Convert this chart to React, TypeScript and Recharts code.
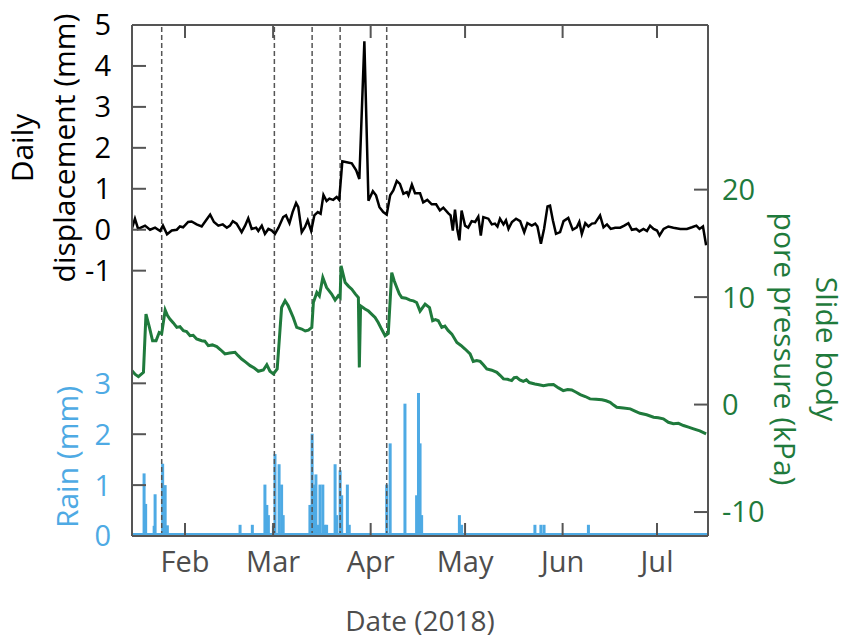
import React from "react";
import {
  ComposedChart,
  Line,
  Bar,
  XAxis,
  YAxis,
  ReferenceLine,
} from "recharts";

// Days are counted from 1 Jan 2018 (day 0).
const monthTicks = [31, 59, 90, 120, 151, 181];
const monthLabels = ["Feb", "Mar", "Apr", "May", "Jun", "Jul"];
const rainEventDays = [23.6, 59.4, 71.4, 80.3, 95.1];

const dispTicks = [-1, 0, 1, 2, 3, 4, 5];
const rainTicks = [0, 1, 2, 3];
const poreTicks = [-10, 0, 10, 20];

// daily displacement, mm
const displacement: [number, number][] = [
  [14.1, 0.02], [15.1, 0.27], [16.1, 0.02], [18.3, 0.1], [19.9, 0], [21.5, 0.05],
  [23.1, -0.03], [24.0, 0.1], [25.3, -0.11], [26.8, -0.02], [28.4, 0], [29.4, 0.08],
  [30.4, 0.06], [32.0, 0.19], [33.1, 0.2], [34.7, 0.13], [36.3, 0.08], [37.7, 0.23],
  [39.0, 0.37], [40.2, 0.19], [41.6, 0.1], [43.0, 0.13], [44.3, 0.05], [45.3, 0.1],
  [46.2, 0.21], [47.4, 0.15], [49.0, -0.06], [50.1, 0.1], [51.1, 0.28], [52.2, 0.02],
  [53.6, 0.05], [54.3, -0.03], [55.4, 0.1], [56.4, -0.1], [57.5, 0.02], [58.6, -0.02],
  [59.6, -0.1], [60.7, 0.05], [62.2, 0.31], [63.1, 0.35], [64.2, 0.16], [65.2, 0.43],
  [66.3, 0.65], [67.0, 0.55], [68.1, -0.06], [69.1, 0.06], [70.0, 0.23], [71.1, -0.03],
  [72.1, 0.35], [73.2, 0.43], [74.1, 0.39], [75.0, 0.85], [76.0, 0.7], [76.9, 0.76],
  [78.1, 0.73], [79.2, 0.8], [80.0, 0.73], [81.0, 1.67], [82.4, 1.65], [84.0, 1.62],
  [85.4, 1.45], [86.4, 1.24], [88.0, 4.6], [89.3, 0.71], [90.7, 0.94], [91.7, 0.84],
  [92.8, 0.55], [94.0, 0.43], [95.1, 0.37], [96.2, 0.84], [97.2, 0.96], [98.3, 1.19],
  [99.3, 1.12], [100.4, 0.88], [101.5, 0.92], [102.0, 0.84], [103.1, 1.1], [104.1, 0.89],
  [105.7, 0.89], [106.7, 0.67], [108.0, 0.73], [109.4, 0.62], [110.8, 0.62], [112.0, 0.47],
  [113.1, 0.54], [114.7, 0.4], [115.4, 0.35], [116.1, -0.02], [116.8, 0.49], [117.5, 0.02],
  [118.2, -0.26], [118.9, 0.47], [120.0, 0.1], [121.0, 0.05], [122.1, 0.21], [123.2, 0.19],
  [124.2, 0.32], [125.0, -0.14], [125.8, 0.31], [127.4, 0.27], [128.5, 0.13], [129.5, 0.15],
  [130.3, 0.08], [131.1, 0.27], [132.2, 0.13], [133.0, 0.23], [133.8, 0.02], [134.9, 0.19],
  [136.2, 0.27], [137.5, 0.21], [138.8, -0.06], [139.8, 0.16], [141.2, 0.1], [142.3, 0.15],
  [143.0, 0.08], [144.1, -0.34], [145.1, 0.02], [146.2, 0.57], [147.0, 0.59], [147.9, 0.23],
  [148.9, -0.1], [150.2, -0.06], [151.3, 0.21], [152.8, 0.29], [154.2, 0], [155.5, 0.06],
  [156.3, 0.19], [157.1, -0.1], [158.2, 0.16], [159.2, 0.08], [160.3, 0.15], [161.3, 0.16],
  [162.9, 0.35], [164.0, 0.06], [165.1, 0.13], [166.3, 0.02], [167.7, 0.05], [169.3, 0.05],
  [170.6, 0.1], [171.9, 0.16], [173.0, 0], [174.4, 0.02], [175.4, -0.04], [176.7, 0.02],
  [177.8, -0.03], [178.8, 0.1], [179.9, 0.02], [181.0, -0.02], [181.8, -0.14], [183.1, 0.02],
  [184.6, 0.08], [186.2, 0.05], [188.4, 0.02], [190.5, 0.02], [192.1, 0.06], [193.5, 0.1],
  [194.5, 0.02], [195.6, 0.08], [196.6, -0.38],
];

// slide body pore pressure, kPa
const porePressure: [number, number][] = [
  [14.1, 3.16], [15.2, 2.8], [16.2, 2.6], [17.8, 3.0], [18.6, 8.42], [19.7, 7.18], [20.7, 5.94],
  [21.8, 5.94], [22.8, 6.71], [23.6, 6.6], [24.7, 8.79], [25.4, 8.3], [26.2, 7.96], [27.3, 7.6],
  [28.4, 7.18], [29.4, 7.25], [30.5, 6.87], [31.5, 6.8], [32.6, 6.41], [33.6, 6.45], [34.7, 6.1],
  [36.3, 5.94], [37.3, 5.9], [38.4, 5.48], [39.7, 5.55], [41.1, 5.39], [42.3, 5.1], [43.7, 4.71],
  [45.2, 4.8], [46.9, 4.86], [47.9, 4.55], [49.0, 4.24], [50.3, 3.95], [51.7, 3.62],
  [53.0, 3.4], [54.3, 3.1], [55.9, 3.22], [57.0, 3.71], [58.0, 3.1], [59.1, 2.85], [60.3, 3.31],
  [61.7, 9.03], [62.8, 9.66], [63.8, 9.19], [65.4, 8.1], [66.5, 7.18], [68.1, 7.03],
  [69.2, 6.85], [70.2, 6.93], [71.3, 7.18], [71.8, 9.5], [72.9, 10.43], [73.7, 10.12],
  [74.8, 11.82], [76.0, 10.89], [77.6, 10.28], [78.7, 9.72], [79.7, 10.12], [80.3, 9.96],
  [80.6, 12.91], [81.9, 11.36], [83.0, 11.0], [84.0, 10.74], [85.1, 10.3], [86.1, 9.96],
  [86.4, 3.46], [86.8, 9.19], [88.2, 8.89], [89.3, 8.7], [90.3, 8.42], [91.4, 8.1],
  [92.4, 7.64], [93.5, 7.0], [94.6, 6.41], [95.6, 6.62], [96.7, 12.28], [97.5, 11.5],
  [98.3, 10.89], [99.1, 10.3], [99.9, 9.96], [101.2, 9.9], [102.5, 9.72], [103.6, 9.65],
  [104.6, 9.5], [105.7, 8.7], [107.3, 9.35], [108.7, 9.03], [109.7, 7.8], [110.6, 7.9],
  [111.5, 7.8], [112.6, 7.18], [113.6, 7.3], [114.6, 6.9], [115.8, 6.56], [117.4, 5.78],
  [118.7, 5.5], [120.0, 5.17], [121.6, 4.71], [122.6, 4.02], [123.7, 4.1], [124.8, 4.02],
  [125.8, 3.7], [126.9, 3.31], [128.5, 3.2], [130.1, 3.0], [131.2, 2.7], [132.2, 2.39],
  [133.5, 2.35], [134.8, 2.23], [135.6, 2.5], [136.4, 2.53], [137.4, 2.3], [138.5, 2.16],
  [139.5, 2.3], [140.4, 2.05], [142.2, 1.92], [143.5, 1.85], [144.9, 1.76], [146.5, 1.85],
  [148.1, 1.86], [149.7, 1.55], [151.2, 1.3], [152.6, 1.4], [153.9, 1.36], [155.3, 1.15],
  [156.6, 0.93], [158.2, 0.75], [159.7, 0.53], [161.6, 0.5], [163.5, 0.44], [164.8, 0.35],
  [166.1, 0.21], [167.2, -0.05], [168.2, -0.25], [170.3, -0.32], [172.5, -0.4], [174.0, -0.6],
  [175.6, -0.81], [177.7, -0.95], [179.9, -1.18], [181.4, -1.22], [183.0, -1.33],
  [184.6, -1.65], [186.2, -1.79], [187.8, -1.75], [189.4, -1.95], [191.0, -2.1],
  [192.6, -2.26], [194.6, -2.45], [196.6, -2.72],
];

// rain, mm
const rainfall: [number, number][] = [
  [18.0, 1.23], [18.5, 0.63], [21.2, 0.2], [21.5, 0.82], [23.9, 1.42], [24.7, 1.0],
  [25.4, 0.21], [48.5, 0.22], [52.4, 0.22], [56.4, 1.01], [57.0, 0.61], [57.5, 0.41],
  [59.1, 0.2], [59.6, 1.61], [60.9, 1.41], [61.7, 1.01], [62.2, 0.41], [70.7, 0.61],
  [71.4, 2.01], [72.0, 1.01], [72.6, 1.21], [73.4, 0.22], [73.9, 1.01], [74.8, 1.01],
  [75.5, 0.22], [76.0, 0.22], [78.7, 1.41], [79.2, 0.41], [80.3, 1.29], [80.8, 0.8],
  [82.6, 1.01], [83.2, 0.22], [95.1, 1.01], [96.2, 1.82], [100.9, 2.6], [104.6, 0.8],
  [105.2, 2.81], [105.7, 1.82], [106.2, 0.41], [118.2, 0.41], [118.9, 0.22], [142.2, 0.22],
  [144.1, 0.22], [145.1, 0.22], [159.2, 0.22],
];

type Row = { day: number; disp?: number; pore?: number; rain?: number };

const byDay = new Map<number, Row>();
function addSeries(points: [number, number][], key: "disp" | "pore" | "rain") {
  for (const [day, v] of points) {
    const row = byDay.get(day) ?? { day };
    row[key] = v;
    byDay.set(day, row);
  }
}
addSeries(displacement, "disp");
addSeries(porePressure, "pore");
addSeries(rainfall, "rain");
const rows = Array.from(byDay.values()).sort((a, b) => a.day - b.day);

const W = 849;
const H = 639;
const PLOT_LEFT = 132;
const PLOT_RIGHT = 708;
const PLOT_TOP = 24;
const PLOT_BOTTOM = 536;
const LEFT_AXIS_W = 60;
const RIGHT_AXIS_W = 60;
const BOTTOM_AXIS_H = 60;

const FONT = "'Open Sans', 'Noto Sans', sans-serif";
const FS_TICK = 29;
const FS_YTITLE = 30;
const FS_XTITLE = 28;
const AXIS = "#555555";
const GREY_TEXT = "#4d4d4d";
const BLUE = "#4eaae4";
const GREEN = "#1f7a3c";

function BottomTick(props: any) {
  const { x, y, payload } = props;
  const i = monthTicks.indexOf(payload.value);
  return (
    <g>
      <line x1={x} x2={x} y1={y} y2={y - 13} stroke={AXIS} strokeWidth={2} />
      <text x={x} y={y + 36} textAnchor="middle" fontSize={FS_TICK} fontFamily={FONT} fill={GREY_TEXT}>
        {monthLabels[i]}
      </text>
    </g>
  );
}

function TopTick(props: any) {
  const { x, y } = props;
  return <line x1={x} x2={x} y1={y} y2={y + 13} stroke={AXIS} strokeWidth={2} />;
}

// both left-hand scales share the left edge of the plot box
function leftTick(color: string) {
  return (props: any) => {
    const { y, payload } = props;
    const x = PLOT_LEFT;
    return (
      <g>
        <line x1={x} x2={x + 14} y1={y} y2={y} stroke={AXIS} strokeWidth={2} />
        <text x={x - 21} y={y} dy="0.36em" textAnchor="end" fontSize={FS_TICK} fontFamily={FONT} fill={color}>
          {payload.value}
        </text>
      </g>
    );
  };
}

function RightTick(props: any) {
  const { x, y, payload } = props;
  return (
    <g>
      <line x1={x} x2={x - 14} y1={y} y2={y} stroke={AXIS} strokeWidth={2} />
      <text x={x + 14} y={y} dy="0.36em" textAnchor="start" fontSize={FS_TICK} fontFamily={FONT} fill={GREEN}>
        {payload.value}
      </text>
    </g>
  );
}

// thin rain stems of fixed width, centred on the day
function RainStem(props: any) {
  const { x, y, width, height } = props;
  if (!height || height <= 0) return null;
  return <rect x={x + width / 2 - 1.5} y={y} width={3} height={height} fill={BLUE} />;
}

// zero line of the rain record, drawn just above the bottom axis
function RainBaseline(props: any) {
  const { x1, x2, y1 } = props;
  return <line x1={x1} x2={x2} y1={y1 - 2} y2={y1 - 2} stroke={BLUE} strokeWidth={2} />;
}

function rotated(text: string, x: number, y: number, angle: number, color: string, size: number) {
  return (
    <text
      x={x}
      y={y}
      transform={`rotate(${angle} ${x} ${y})`}
      textAnchor="middle"
      fontSize={size}
      fontFamily={FONT}
      fill={color}
    >
      {text}
    </text>
  );
}

const dispTitle = () => (
  <g>
    {rotated("Daily", 33, 148, -90, "#000", FS_YTITLE)}
    {rotated("displacement (mm)", 75, 148, -90, "#000", FS_YTITLE)}
  </g>
);

const rainTitle = () => <g>{rotated("Rain (mm)", 78, 457, -90, BLUE, FS_YTITLE)}</g>;

const poreTitle = () => (
  <g>
    {rotated("Slide body", 816, 349, 90, GREEN, FS_YTITLE)}
    {rotated("pore pressure (kPa)", 774, 349, 90, GREEN, FS_YTITLE)}
  </g>
);

const dateTitle = () => (
  <text
    x={(PLOT_LEFT + PLOT_RIGHT) / 2}
    y={631}
    textAnchor="middle"
    fontSize={FS_XTITLE}
    fontFamily={FONT}
    fill={GREY_TEXT}
  >
    Date (2018)
  </text>
);

export default function App() {
  return (
    <div style={{ position: "absolute", left: 0, top: 0, width: W, height: H, background: "#fff", fontFamily: FONT }}>
      <ComposedChart
        width={W}
        height={H}
        data={rows}
        margin={{
          top: PLOT_TOP,
          bottom: H - PLOT_BOTTOM - BOTTOM_AXIS_H,
          left: PLOT_LEFT - LEFT_AXIS_W,
          right: W - PLOT_RIGHT - RIGHT_AXIS_W,
        }}
      >
        <XAxis
          xAxisId="bottom"
          dataKey="day"
          type="number"
          domain={[14.16, 197.2]}
          allowDataOverflow
          ticks={monthTicks}
          interval={0}
          height={BOTTOM_AXIS_H}
          tickSize={0}
          tickMargin={0}
          tickLine={false}
          tick={BottomTick}
          axisLine={{ stroke: AXIS, strokeWidth: 2 }}
          label={{ content: dateTitle }}
        />
        <XAxis
          xAxisId="top"
          orientation="top"
          dataKey="day"
          type="number"
          domain={[14.16, 197.2]}
          allowDataOverflow
          ticks={monthTicks}
          interval={0}
          height={1}
          tickSize={0}
          tickMargin={0}
          tickLine={false}
          tick={TopTick}
          axisLine={{ stroke: AXIS, strokeWidth: 2 }}
        />
        <YAxis
          yAxisId="rain"
          orientation="left"
          domain={[0, 10.04]}
          allowDataOverflow
          ticks={rainTicks}
          interval={0}
          width={1}
          tickSize={0}
          tickMargin={0}
          tickLine={false}
          axisLine={false}
          tick={leftTick(BLUE)}
          label={{ content: rainTitle }}
        />
        <YAxis
          yAxisId="disp"
          orientation="left"
          domain={[-7.48, 5]}
          allowDataOverflow
          ticks={dispTicks}
          interval={0}
          width={LEFT_AXIS_W - 1}
          tickSize={0}
          tickMargin={0}
          tickLine={false}
          tick={leftTick("#000")}
          axisLine={{ stroke: AXIS, strokeWidth: 2 }}
          label={{ content: dispTitle }}
        />
        <YAxis
          yAxisId="pore"
          orientation="right"
          domain={[-12.23, 35.32]}
          allowDataOverflow
          ticks={poreTicks}
          interval={0}
          width={RIGHT_AXIS_W}
          tickSize={0}
          tickMargin={0}
          tickLine={false}
          tick={RightTick}
          axisLine={{ stroke: AXIS, strokeWidth: 2 }}
          label={{ content: poreTitle }}
        />

        {rainEventDays.map((d) => (
          <ReferenceLine
            key={d}
            x={d}
            xAxisId="bottom"
            yAxisId="disp"
            stroke="#555"
            strokeWidth={1.5}
            strokeDasharray="5 3"
          />
        ))}
        <ReferenceLine y={0} xAxisId="bottom" yAxisId="rain" shape={RainBaseline} />

        <Bar
          dataKey="rain"
          xAxisId="bottom"
          yAxisId="rain"
          fill={BLUE}
          shape={RainStem}
          isAnimationActive={false}
        />
        <Line
          dataKey="pore"
          xAxisId="bottom"
          yAxisId="pore"
          type="linear"
          stroke={GREEN}
          strokeWidth={3}
          dot={false}
          connectNulls
          isAnimationActive={false}
        />
        <Line
          dataKey="disp"
          xAxisId="bottom"
          yAxisId="disp"
          type="linear"
          stroke="#000"
          strokeWidth={2.5}
          dot={false}
          connectNulls
          isAnimationActive={false}
        />
      </ComposedChart>
    </div>
  );
}
